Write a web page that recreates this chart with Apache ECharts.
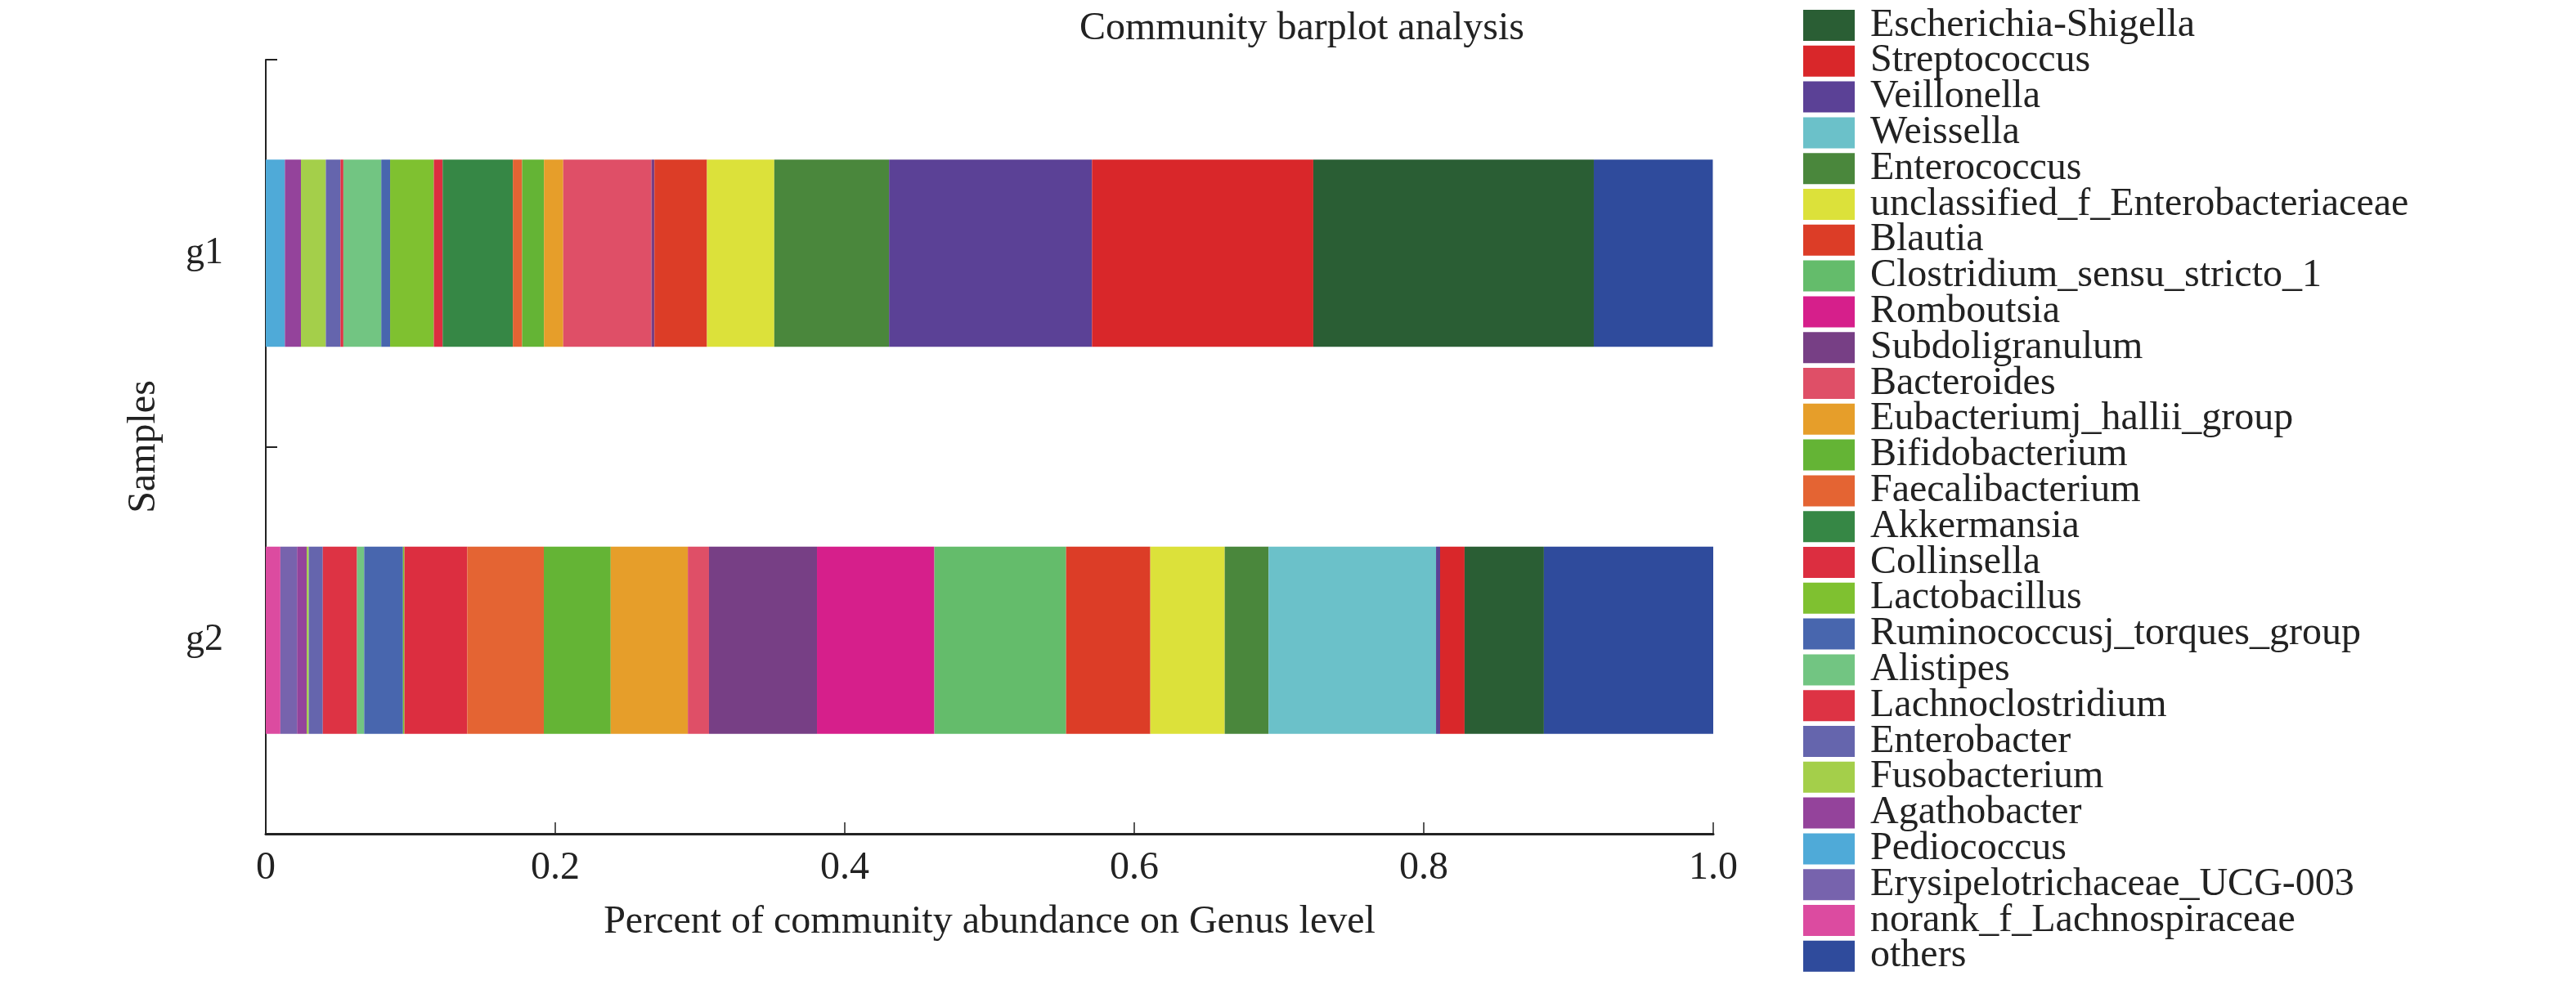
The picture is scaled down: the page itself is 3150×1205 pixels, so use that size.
<!DOCTYPE html>
<html>
<head>
<meta charset="utf-8">
<script src="https://cdn.jsdelivr.net/npm/echarts@6/dist/echarts.min.js"></script>
<style>html,body{margin:0;padding:0;background:#fff}#chart{width:3150px;height:1205px}</style>
</head>
<body>
<div id="chart"></div>
<script>
// Genera in legend order (top to bottom)
const genera = [
  'Escherichia-Shigella','Streptococcus','Veillonella','Weissella','Enterococcus',
  'unclassified_f_Enterobacteriaceae','Blautia','Clostridium_sensu_stricto_1','Romboutsia',
  'Subdoligranulum','Bacteroides','Eubacteriumj_hallii_group','Bifidobacterium',
  'Faecalibacterium','Akkermansia','Collinsella','Lactobacillus','Ruminococcusj_torques_group',
  'Alistipes','Lachnoclostridium','Enterobacter','Fusobacterium','Agathobacter','Pediococcus',
  'Erysipelotrichaceae_UCG-003','norank_f_Lachnospiraceae','others'
];
const samples = ['g1', 'g2'];
// Relative abundance per genus (same order as genera)
const g1Values = [
  0.1938, 0.1529, 0.1402, 0.0, 0.0793,
  0.0465, 0.0363, 0.0, 0.0,
  0.0020, 0.0610, 0.0133, 0.0151,
  0.0064, 0.0485, 0.0061, 0.0302, 0.0061,
  0.0262, 0.0020, 0.0101, 0.0172, 0.0111, 0.0132,
  0.0, 0.0, 0.0822
];
const g2Values = [
  0.0548, 0.0169, 0.0028, 0.1157, 0.0303,
  0.0514, 0.0582, 0.0910, 0.0811,
  0.0746, 0.0146, 0.0533, 0.0462,
  0.0529, 0.0, 0.0434, 0.0010, 0.0268,
  0.0050, 0.0236, 0.0097, 0.0014, 0.0067, 0.0,
  0.0115, 0.0101, 0.1172
];
const xTicks = [0, 0.2, 0.4, 0.6, 0.8, 1.0];
const colors = [
  '#2a5e34','#d9272a','#5b4196','#6bc1c9','#4a873c',
  '#dce13a','#dc3d27','#64bc6b','#d61f8b',
  '#773f85','#df4f67','#e69e2a','#64b435',
  '#e46433','#368745','#dc2e40','#7fc130','#4866ae',
  '#72c582','#dd3344','#6565ad','#a4cf4a','#94439b','#4faad8',
  '#7763ad','#dc4ba0','#2f4b9c'
];

// stacking order: leftmost = last legend item before "others"; others at the right end
const n = genera.length;
const stackIdx = [];
for (let i = n - 2; i >= 0; i--) stackIdx.push(i);
stackIdx.push(n - 1);

const FONT = 'Liberation Serif';
const series = stackIdx.map(i => ({
  name: genera[i],
  type: 'bar',
  stack: 'total',
  barWidth: 229,
  itemStyle: { color: colors[i] },
  emphasis: { disabled: true },
  data: [g1Values[i], g2Values[i]]
}));

const chart = echarts.init(document.getElementById('chart'));
chart.setOption({
  animation: false,
  textStyle: { fontFamily: FONT, color: '#222' },
  title: {
    text: 'Community barplot analysis',
    left: 1587, top: 6, textAlign: 'center',
    textStyle: { fontFamily: FONT, fontSize: 48, fontWeight: 'normal', color: '#222' }
  },
  legend: {
    orient: 'vertical',
    left: 2200, top: 2,
    height: 1203,
    itemWidth: 63, itemHeight: 38, itemGap: -4.2,
    icon: 'rect',
    data: genera,
    selectedMode: false,
    textStyle: { fontFamily: FONT, fontSize: 48, color: '#222', padding: [0, 0, 0, 14] }
  },
  grid: { left: 325, right: 1055, top: 73, bottom: 185, containLabel: false },
  xAxis: {
    type: 'value', min: 0, max: 1, interval: 0.2,
    name: 'Percent of community abundance on Genus level',
    nameLocation: 'middle', nameGap: 84,
    nameTextStyle: { fontFamily: FONT, fontSize: 48, color: '#222' },
    axisLine: { show: true, lineStyle: { color: '#222', width: 3 } },
    axisTick: { show: true, inside: true, length: 14, lineStyle: { color: '#222', width: 1.5 } },
    axisLabel: {
      fontFamily: FONT, fontSize: 48, color: '#222', margin: 18,
      formatter: v => (xTicks.indexOf(Math.round(v * 10) / 10) >= 0 ? (v === 0 ? '0' : v.toFixed(1)) : '')
    },
    splitLine: { show: false }
  },
  yAxis: {
    type: 'category', data: samples, inverse: true,
    name: 'Samples', nameLocation: 'middle', nameGap: 125, nameRotate: 90,
    nameTextStyle: { fontFamily: FONT, fontSize: 48, color: '#222' },
    axisLine: { show: true, lineStyle: { color: '#222', width: 2 } },
    axisTick: { show: true, inside: true, length: 14, alignWithLabel: false, lineStyle: { color: '#222', width: 2 } },
    axisLabel: { fontFamily: FONT, fontSize: 46, color: '#222', margin: 52 },
    splitLine: { show: false }
  },
  series: series
});
</script>
</body>
</html>
